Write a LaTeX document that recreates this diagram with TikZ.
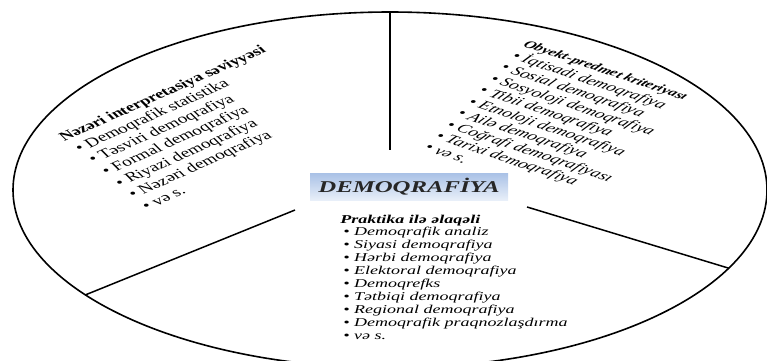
\documentclass[tikz,border=0pt]{standalone}
\usepackage{fontspec}
\setmainfont{Liberation Serif}
\usetikzlibrary{shapes.geometric}

\definecolor{boxtop}{HTML}{A9C1E6}
\definecolor{boxbot}{HTML}{E8EFF9}
\newcommand{\pnt}{\textbullet\ }

\begin{document}
\begin{tikzpicture}[
  x=0.666667pt, y=-1pt, xscale=1.5,   % the whole drawing is stretched sideways
  oval/.style={draw, ellipse, line width=1.6pt, minimum width=754pt, minimum height=356pt, inner sep=0pt, outer sep=0pt},
  spoke/.style={line width=1.5pt},
  lst/.style={transform shape, inner sep=0pt, anchor=base west},
  hub/.style={transform shape, minimum width=132pt, minimum height=27pt, inner sep=0pt,
    top color=boxtop, bottom color=boxbot, text=black!85,
    font=\fontsize{16.5}{18}\selectfont\bfseries\itshape}
]
\clip (0,0) rectangle (767,360);

% Outline and hub
\node[oval] (oval) at (390,190) {};
\coordinate (hubN) at (390,150);
\coordinate (hubL) at (295,210);
\coordinate (hubR) at (527,207);

% Spokes
\draw[spoke, line width=2.2pt] (oval.north) -- (hubN);
\draw[spoke] (hubL) -- (oval.199.4);
\draw[spoke] (hubR) -- (oval.347.2);

% Title box
\node[hub] (demo) at (409,186.5) {DEMOQRAFİYA};

% Left sector
\node[lst, rotate=33.7, font=\fontsize{13}{14.6}\selectfont] (nazari) at (64,142) {%
  \begin{tabular}[t]{@{}l@{}}
  {\fontsize{12.5}{14.6}\selectfont\bfseries Nəzəri interpretasiya səviyyəsi}\\
  \hspace{3pt}\pnt Demoqrafik statistika\\
  \hspace{4pt}\pnt Təsviri demoqrafiya\\
  \hspace{5pt}\pnt Formal demoqrafiya\\
  \hspace{6pt}\pnt Riyazi demoqrafiya\\
  \hspace{7pt}\pnt Nəzəri demoqrafiya\\
  \hspace{8pt}\pnt və s.
  \end{tabular}};

% Right sector
\node[lst, rotate=-26.7, xslant=0.1, font=\fontsize{12.6}{13.5}\selectfont\itshape] (obyekt) at (522,46) {%
  \begin{tabular}[t]{@{}l@{}}
  {\fontsize{11}{13.5}\selectfont\bfseries Obyekt-predmet kriteriyası}\\
  \pnt İqtisadi demoqrafiya\\
  \pnt Sosial demoqrafiya\\
  \pnt Sosyoloji demoqrafiya\\
  \pnt Tibii demoqrafiya\\
  \pnt Etnoloji demoqrafiya\\
  \pnt Ailə demoqrafiya\\
  \pnt Coğrafi demoqrafiyası\\
  \pnt Tarixi demoqrafiya\\
  \pnt və s.
  \end{tabular}};

% Bottom sector
\node[lst, font=\fontsize{12}{12.9}\selectfont\itshape] (praktika) at (340,223) {%
  \begin{tabular}[t]{@{}l@{}}
  \textbf{Praktika ilə əlaqəli}\\
  \hspace{2pt}\pnt Demoqrafik analiz\\
  \hspace{2pt}\pnt Siyasi demoqrafiya\\
  \hspace{2pt}\pnt Hərbi demoqrafiya\\
  \hspace{2pt}\pnt Elektoral demoqrafiya\\
  \hspace{2pt}\pnt Demoqrefks\\
  \hspace{2pt}\pnt Tətbiqi demoqrafiya\\
  \hspace{2pt}\pnt Regional demoqrafiya\\
  \hspace{2pt}\pnt Demoqrafik praqnozlaşdırma\\
  \hspace{2pt}\pnt və s.
  \end{tabular}};
\end{tikzpicture}
\end{document}
